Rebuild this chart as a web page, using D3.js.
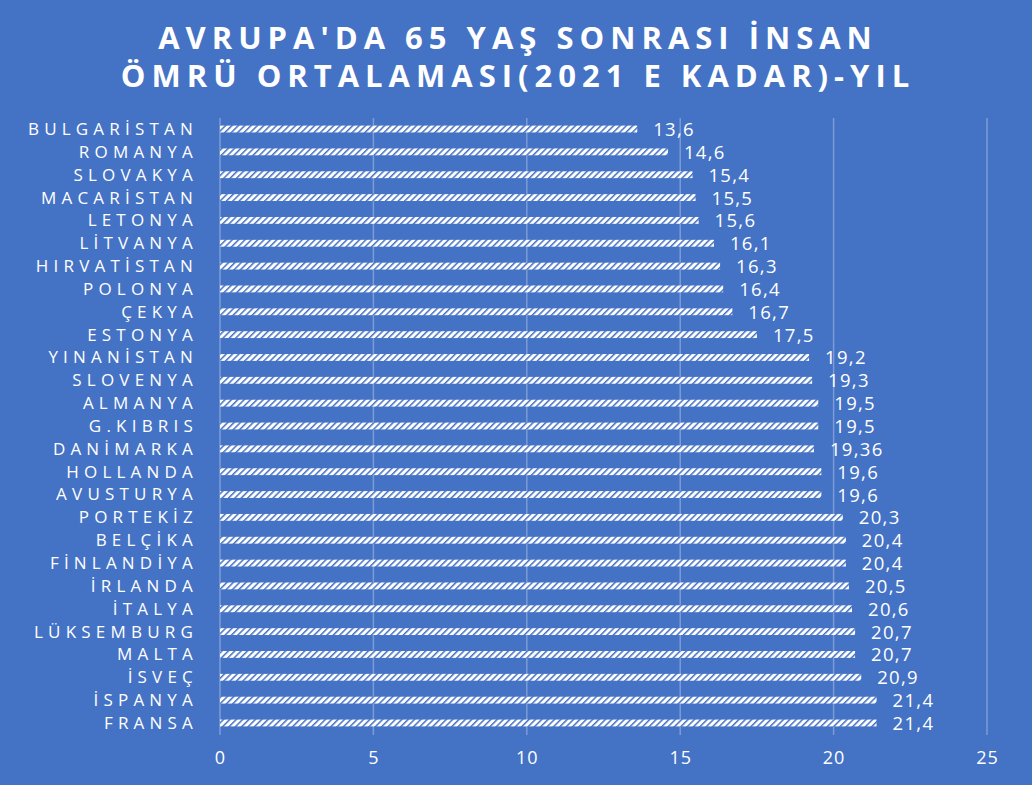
<!DOCTYPE html>
<html><head><meta charset="utf-8">
<script src="https://cdn.jsdelivr.net/npm/d3@7"></script>
<style>html,body{margin:0;padding:0;background:#4472C4;}svg{display:block;}</style>
</head><body>
<svg id="c" width="1032" height="785"></svg>
<script>
const titleLines = ["AVRUPA'DA 65 YAŞ SONRASI İNSAN", "ÖMRÜ ORTALAMASI(2021 E KADAR)-YIL"];
const categories = ["BULGARİSTAN","ROMANYA","SLOVAKYA","MACARİSTAN","LETONYA","LİTVANYA","HIRVATİSTAN","POLONYA","ÇEKYA","ESTONYA","YINANİSTAN","SLOVENYA","ALMANYA","G.KIBRIS","DANİMARKA","HOLLANDA","AVUSTURYA","PORTEKİZ","BELÇİKA","FİNLANDİYA","İRLANDA","İTALYA","LÜKSEMBURG","MALTA","İSVEÇ","İSPANYA","FRANSA"];
const values = [13.6,14.6,15.4,15.5,15.6,16.1,16.3,16.4,16.7,17.5,19.2,19.3,19.5,19.5,19.36,19.6,19.6,20.3,20.4,20.4,20.5,20.6,20.7,20.7,20.9,21.4,21.4];
const valueLabels = ["13,6","14,6","15,4","15,5","15,6","16,1","16,3","16,4","16,7","17,5","19,2","19,3","19,5","19,5","19,36","19,6","19,6","20,3","20,4","20,4","20,5","20,6","20,7","20,7","20,9","21,4","21,4"];
const ticks = [0,5,10,15,20,25];

const svg = d3.select("#c");
const W = 1032, H = 785;
svg.append("rect").attr("width",W).attr("height",H).attr("fill","#4472C4");

const defs = svg.append("defs");
const pat = defs.append("pattern").attr("id","stripes").attr("patternUnits","userSpaceOnUse")
  .attr("width",4.5).attr("height",4.5).attr("patternTransform","rotate(45)");
pat.append("rect").attr("width",4.5).attr("height",4.5).attr("fill","#ffffff");
pat.append("rect").attr("x",0).attr("width",1.5).attr("height",4.5).attr("fill","#4472C4");

const x = d3.scaleLinear().domain([0,25]).range([220,987]);
const y = d3.scaleBand().domain(categories).range([117.6,734.4]).paddingInner(0.7).paddingOuter(0.35);

// title (two separate lines)
titleLines.forEach((l,i)=>svg.append("text").attr("text-anchor","middle").attr("fill","#fff")
  .attr("font-family","'Open Sans', sans-serif").attr("font-weight","bold").attr("font-size",31)
  .attr("letter-spacing",6).attr("x",518).attr("y",49+i*38).text(l));

// gridlines
svg.append("g").selectAll("line").data(ticks).join("line")
  .attr("x1",d=>x(d)).attr("x2",d=>x(d)).attr("y1",118).attr("y2",735)
  .attr("stroke","#7c9cd6").attr("stroke-width",1.5);

// x axis labels
const xa = svg.append("g").attr("transform","translate(0,735)")
  .call(d3.axisBottom(x).tickValues(ticks).tickSize(0).tickPadding(16).tickFormat(d=>d));
xa.select(".domain").remove();
xa.selectAll("text").attr("fill","#fff").attr("font-size",18).attr("letter-spacing",1)
  .attr("font-family","'Open Sans', sans-serif");

// y axis labels
const ya = svg.append("g").attr("transform","translate(198,0)")
  .call(d3.axisLeft(y).tickSize(0).tickPadding(0));
ya.select(".domain").remove();
ya.selectAll("text").attr("fill","#fff").attr("font-size",17).attr("letter-spacing",5.2)
  .attr("font-family","'Open Sans', sans-serif").attr("dy","0.35em");

// bars
svg.append("g").selectAll("rect").data(values).join("rect")
  .attr("x",x(0)).attr("y",(d,i)=>y(categories[i]))
  .attr("width",d=>x(d)-x(0)).attr("height",y.bandwidth())
  .attr("fill","url(#stripes)");

// value labels
svg.append("g").selectAll("text").data(values).join("text")
  .attr("x",d=>x(d)+16).attr("y",(d,i)=>y(categories[i])+y.bandwidth()/2)
  .attr("dy","0.38em").attr("fill","#fff").attr("font-size",18.5)
  .attr("font-family","'Open Sans', sans-serif").attr("letter-spacing",1.3)
  .text((d,i)=>valueLabels[i]);
</script>
</body></html>
